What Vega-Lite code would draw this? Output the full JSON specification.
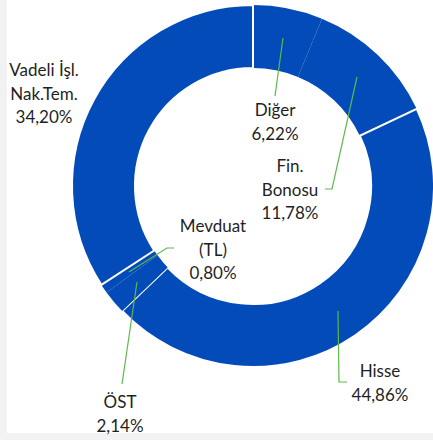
{
  "$schema": "https://vega.github.io/schema/vega-lite/v6.json",
  "width": 426,
  "height": 433,
  "autosize": {"type": "none"},
  "padding": {"left": 7, "top": 0, "right": 0, "bottom": 7},
  "background": "#f2f2f2",
  "config": {"view": {"fill": "white", "stroke": null}},
  "datasets": {
    "slices": [
      {"name": "Diğer", "share": 6.22, "rank": 1},
      {"name": "Fin. Bonosu", "share": 11.78, "rank": 2},
      {"name": "Hisse", "share": 44.86, "rank": 3},
      {"name": "ÖST", "share": 2.14, "rank": 4},
      {"name": "Mevduat (TL)", "share": 0.80, "rank": 5},
      {"name": "Vadeli İşl. Nak.Tem.", "share": 34.20, "rank": 6}
    ],
    "labels": [
      {"name": "Diğer", "label": "Diğer\n6,22%", "x": 275, "y": 116},
      {"name": "Fin. Bonosu", "label": "Fin.\nBonosu\n11,78%", "x": 290, "y": 172},
      {"name": "Hisse", "label": "Hisse\n44,86%", "x": 380, "y": 377},
      {"name": "ÖST", "label": "ÖST\n2,14%", "x": 120, "y": 408},
      {"name": "Mevduat (TL)", "label": "Mevduat\n(TL)\n0,80%", "x": 213, "y": 232},
      {"name": "Vadeli İşl. Nak.Tem.", "label": "Vadeli İşl.\nNak.Tem.\n34,20%", "x": 44, "y": 76}
    ],
    "leaders": [
      {"name": "Diğer", "seq": 1, "x": 283, "y": 38},
      {"name": "Diğer", "seq": 2, "x": 275, "y": 96},
      {"name": "Fin. Bonosu", "seq": 1, "x": 357, "y": 77},
      {"name": "Fin. Bonosu", "seq": 2, "x": 332, "y": 189},
      {"name": "Fin. Bonosu", "seq": 3, "x": 325, "y": 189},
      {"name": "Hisse", "seq": 1, "x": 338, "y": 311},
      {"name": "Hisse", "seq": 2, "x": 339, "y": 382},
      {"name": "Hisse", "seq": 3, "x": 347, "y": 382},
      {"name": "ÖST", "seq": 1, "x": 137, "y": 282},
      {"name": "ÖST", "seq": 2, "x": 122, "y": 384},
      {"name": "Mevduat (TL)", "seq": 1, "x": 129, "y": 272},
      {"name": "Mevduat (TL)", "seq": 2, "x": 167, "y": 248},
      {"name": "Mevduat (TL)", "seq": 3, "x": 174, "y": 248}
    ]
  },
  "layer": [
    {
      "data": {"name": "slices"},
      "mark": {"type": "arc", "innerRadius": 118, "outerRadius": 181, "stroke": "white", "color": "#034BB8"},
      "encoding": {
        "theta": {"field": "share", "type": "quantitative", "stack": true},
        "order": {"field": "rank", "type": "quantitative"},
        "x": {"datum": 253, "type": "quantitative", "scale": {"domain": [7, 433]}, "axis": null},
        "y": {"datum": 186, "type": "quantitative", "scale": {"domain": [0, 433], "reverse": true}, "axis": null},
        "strokeWidth": {
          "condition": {"test": "datum.name === 'Hisse' || datum.name === 'Vadeli İşl. Nak.Tem.'", "value": 2},
          "value": 0
        }
      }
    },
    {
      "data": {"name": "leaders"},
      "mark": {"type": "line", "color": "#5CB94C", "strokeWidth": 1.2},
      "encoding": {
        "x": {"field": "x", "type": "quantitative", "scale": {"domain": [7, 433]}, "axis": null},
        "y": {"field": "y", "type": "quantitative", "scale": {"domain": [0, 433], "reverse": true}, "axis": null},
        "detail": {"field": "name"},
        "order": {"field": "seq", "type": "quantitative"}
      }
    },
    {
      "data": {"name": "labels"},
      "mark": {"type": "text", "font": "Lato", "fontSize": 17, "lineBreak": "\n", "lineHeight": 23.5, "align": "center", "baseline": "alphabetic", "color": "#1f1f1f"},
      "encoding": {
        "x": {"field": "x", "type": "quantitative", "scale": {"domain": [7, 433]}, "axis": null},
        "y": {"field": "y", "type": "quantitative", "scale": {"domain": [0, 433], "reverse": true}, "axis": null},
        "text": {"field": "label"}
      }
    }
  ]
}
